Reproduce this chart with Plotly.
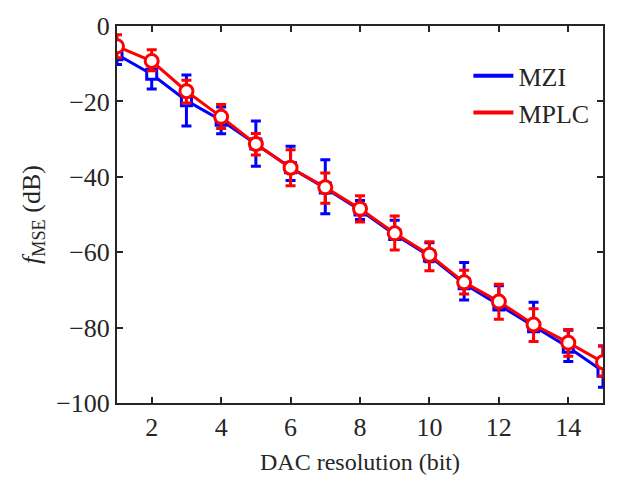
import plotly.graph_objects as go

bits = list(range(1, 16))
mzi_mean = [-7.6, -12.8, -19.8, -25.0, -31.3, -37.6, -43.0, -48.8, -55.3, -61.0, -68.4, -74.0, -79.8, -85.2, -91.6]
mzi_err_up = [1.3, 2.6, 6.8, 3.5, 6.1, 5.7, 7.5, 2.5, 3.8, 3.5, 5.7, 5.1, 6.5, 4.5, 6.7]
mzi_err_dn = [2.6, 3.9, 6.7, 3.6, 5.9, 3.4, 6.8, 2.5, 1.3, 1.5, 4.3, 0.9, 1.2, 3.8, 4.2]
mplc_mean = [-5.4, -9.3, -17.3, -24.1, -31.3, -37.6, -42.8, -48.5, -55.0, -60.7, -68.0, -73.1, -79.2, -84.0, -89.2]
mplc_err_up = [3.1, 3.0, 2.9, 3.3, 2.8, 4.8, 3.8, 3.5, 4.6, 3.5, 3.2, 4.6, 4.2, 3.5, 4.3]
mplc_err_dn = [3.0, 2.6, 3.1, 3.1, 2.9, 4.8, 4.2, 3.5, 4.4, 4.2, 3.1, 4.7, 4.5, 3.6, 3.7]

series = [
    ("MZI", mzi_mean, mzi_err_up, mzi_err_dn, "#0000ff", "square", 10),
    ("MPLC", mplc_mean, mplc_err_up, mplc_err_dn, "#ff0000", "circle", 13),
]

fig = go.Figure()
for name, y, eu, ed, col, sym, ms in series:
    fig.add_trace(go.Scatter(
        x=bits, y=y, mode="lines+markers", name=name, showlegend=False,
        line=dict(color=col, width=3),
        marker=dict(symbol=sym, size=ms, color="white", line=dict(color=col, width=3)),
        error_y=dict(type="data", symmetric=False, array=eu, arrayminus=ed,
                     color=col, thickness=3, width=5),
    ))
for name, y, eu, ed, col, sym, ms in series:
    fig.add_trace(go.Scatter(
        x=[None], y=[None], mode="lines", name=name,
        line=dict(color=col, width=4),
    ))

axis_common = dict(
    showline=True, linecolor="#262626", linewidth=2, mirror="allticks",
    ticks="inside", ticklen=6, tickwidth=2, tickcolor="#262626",
    showgrid=False, zeroline=False,
    tickfont=dict(family="Liberation Serif", size=26, color="#262626"),
)

fig.update_layout(
    width=619, height=483,
    margin=dict(l=117, r=16, t=21, b=79),
    paper_bgcolor="white", plot_bgcolor="white",
    font=dict(family="Liberation Serif", color="#262626"),
    xaxis=dict(range=[1, 15], tickvals=[2, 4, 6, 8, 10, 12, 14],
               title=dict(text="DAC resolution (bit)", font=dict(size=24), standoff=12),
               **axis_common),
    yaxis=dict(range=[-100, 0], tickvals=[0, -20, -40, -60, -80, -100],
               ticktext=["0", "\u221220", "\u221240", "\u221260", "\u221280", "\u2212100"],
               title=dict(text="<i>f</i><sub>MSE</sub> (dB)", font=dict(size=26), standoff=8),
               **axis_common),
    legend=dict(x=0.723, y=0.93, xanchor="left", yanchor="top",
                bgcolor="rgba(0,0,0,0)", font=dict(size=26, family="Liberation Serif"),
                itemwidth=40),
    showlegend=True,
)

fig.write_html("out.html")
